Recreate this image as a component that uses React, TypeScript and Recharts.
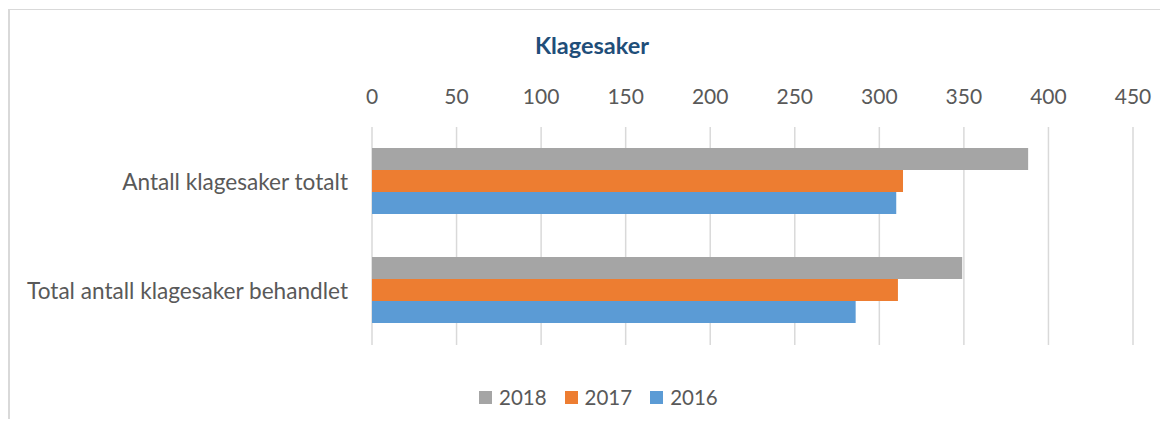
import React from 'react';
import { BarChart, Bar, XAxis, YAxis, CartesianGrid, Legend } from 'recharts';

const title = 'Klagesaker';
const categories = ['Antall klagesaker totalt', 'Total antall klagesaker behandlet'];
const seriesNames = ['2018', '2017', '2016'];
const values2018 = [388, 349];
const values2017 = [314, 311];
const values2016 = [310, 286];
const xTicks = [0, 50, 100, 150, 200, 250, 300, 350, 400, 450];
const seriesColors = ['#A5A5A5', '#ED7D31', '#5B9BD5'];

const data = categories.map((name, i) => ({
  name,
  [seriesNames[0]]: values2018[i],
  [seriesNames[1]]: values2017[i],
  [seriesNames[2]]: values2016[i],
}));

const FONT = 'Lato, "Open Sans", sans-serif';
const TEXT = '#595959';

const LegendContent = () => (
  <div style={{ display: 'flex', alignItems: 'center', fontFamily: FONT, fontSize: 20.5, color: TEXT, lineHeight: '26px' }}>
    {seriesNames.map((s, i) => (
      <div key={s} style={{ display: 'flex', alignItems: 'center', marginRight: 18 }}>
        <span style={{ display: 'inline-block', width: 13, height: 13, background: seriesColors[i], marginRight: 7 }} />
        <span>{s}</span>
      </div>
    ))}
  </div>
);

export default function App() {
  return (
    <div style={{ position: 'relative', width: 1160, height: 411, overflow: 'hidden', background: '#fff' }}>
      <div
        style={{
          position: 'absolute', left: 0, top: 1, width: 1300, height: 600,
          borderTop: '1px solid #d9d9d9', borderLeft: '2px solid #d9d9d9', boxSizing: 'border-box',
        }}
      />
      <div
        style={{
          position: 'absolute', left: 484, width: 200, top: 23, textAlign: 'center',
          fontFamily: FONT, fontWeight: 700, fontSize: 23.5, lineHeight: 1.2, color: '#1F4E79',
        }}
      >
        {title}
      </div>
      <div style={{ position: 'absolute', left: 0, top: 0 }}>
        <BarChart
          width={1160}
          height={411}
          data={data}
          layout="vertical"
          margin={{ top: 89, right: 35, bottom: 74, left: 0 }}
          barCategoryGap={21}
          barGap={0}
        >
          <CartesianGrid horizontal={false} stroke="#d9d9d9" strokeWidth={1.5} />
          <XAxis
            type="number"
            orientation="top"
            domain={[0, 450]}
            ticks={xTicks}
            height={30}
            axisLine={false}
            tickLine={false}
            tickSize={0}
            tickMargin={23}
            interval={0}
            tick={{ fontFamily: FONT, fontSize: 21, fill: TEXT }}
          />
          <YAxis
            type="category"
            dataKey="name"
            width={364}
            axisLine={false}
            tickLine={false}
            tickSize={0}
            tickMargin={24}
            interval={0}
            tick={{ fontFamily: FONT, fontSize: 22.6, fill: TEXT }}
          />
          <Legend
            verticalAlign="middle"
            align="center"
            content={<LegendContent />}
            wrapperStyle={{ top: 376, left: 471, width: 400 }}
          />
          {seriesNames.map((s, i) => (
            <Bar key={s} dataKey={s} fill={seriesColors[i]} isAnimationActive={false} />
          ))}
        </BarChart>
      </div>
    </div>
  );
}
